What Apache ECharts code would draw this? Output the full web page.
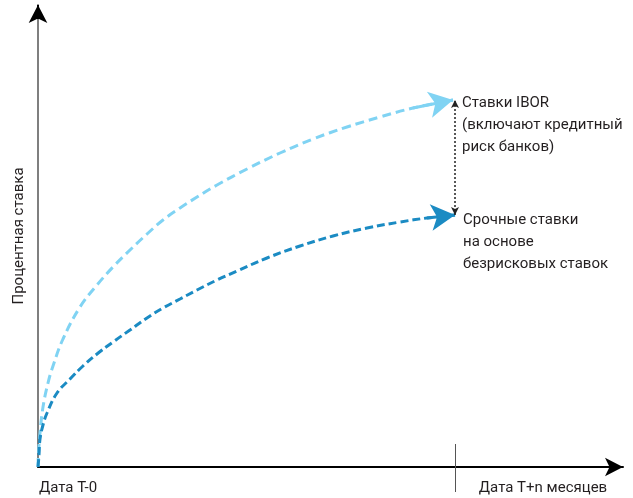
<!DOCTYPE html>
<html>
<head>
<meta charset="utf-8">
<script src="https://cdn.jsdelivr.net/npm/echarts@6/dist/echarts.min.js"></script>
<style>
html,body{margin:0;padding:0;background:#fff;}
#chart{width:633px;height:498px;}
</style>
</head>
<body>
<div id="chart"></div>
<script>
// Time axis (arbitrary units, T-0 .. T+n) and rate (arbitrary units)
var iborX = [0, 0.5, 2, 5, 10, 15, 25, 42, 59, 75, 92, 109, 125, 142, 159, 179, 209, 242, 275, 309, 342, 375, 415];
var iborY = [0, 14, 34, 60, 84, 101, 128, 160, 182, 200, 217, 233, 247, 259, 270, 282, 298, 314, 328, 340, 350, 359, 367];
var rfrX = [0, 1, 2, 5, 9, 19, 32, 45, 59, 75, 92, 109, 125, 142, 159, 179, 199, 229, 262, 295, 329, 362, 389, 417];
var rfrY = [0, 12, 28, 42, 54, 74, 88, 101, 113, 125, 137, 149, 159, 168, 177, 187, 196, 209, 221, 231, 239, 245, 249, 252];
var xMax = 585, yMax = 462;
var tickValues = [30, 505];
var tickLabels = ['Дата T-0', 'Дата T+n месяцев'];
var horizonValue = 417;
var iborLabel = 'Ставки IBOR\n(включают кредитный\nриск банков)';
var rfrLabel = 'Срочные ставки\nна основе\nбезрисковых ставок';
var yName = 'Процентная ставка';

function pairs(xs, ys) { return xs.map(function (x, i) { return [x, ys[i]]; }); }
var ibor = pairs(iborX, iborY);
var rfr = pairs(rfrX, rfrY);
function endArrow(d) {
  var a = d[d.length - 2], b = d[d.length - 1];
  return [[{ coord: a }, { coord: b }]];
}
var FONT = 'Roboto';
var TXT = '#231f20';

var chart = echarts.init(document.getElementById('chart'), null, { renderer: 'canvas' });
chart.setOption({
  animation: false,
  grid: { left: 38, right: 10, top: 5, bottom: 31, containLabel: false },
  xAxis: [{
    type: 'value', min: 0, max: xMax, position: 'bottom',
    splitLine: { show: false },
    axisLine: { show: true, onZero: false, symbol: ['none', 'arrow'], symbolSize: [14, 18],
      lineStyle: { color: '#000', width: 2 } },
    axisTick: { show: true, customValues: [horizonValue], length: 25, inside: false,
      lineStyle: { color: '#555', width: 1 } },
    axisLabel: { show: true, customValues: tickValues, margin: 14,
      fontFamily: FONT, fontSize: 15, color: TXT,
      formatter: function (v) { var i = tickValues.indexOf(v); return i >= 0 ? tickLabels[i] : ''; } }
  }, {
    type: 'value', min: 0, max: xMax, position: 'bottom',
    splitLine: { show: false },
    axisLine: { show: false, onZero: false },
    axisTick: { show: true, customValues: [horizonValue], length: 23, inside: true,
      lineStyle: { color: '#555', width: 1 } },
    axisLabel: { show: false }
  }],
  yAxis: {
    type: 'value', min: 0, max: yMax,
    splitLine: { show: false },
    axisTick: { show: false },
    axisLabel: { show: false },
    axisLine: { show: true, onZero: false, symbol: 'none',
      lineStyle: { color: '#7f7f7f', width: 2 } },
    name: yName, nameLocation: 'middle', nameGap: 11, nameRotate: 90,
    nameTextStyle: { fontFamily: FONT, fontSize: 15, color: TXT }
  },
  series: [{
    type: 'line', name: 'IBOR', data: ibor, smooth: 0.4, showSymbol: false, silent: true,
    lineStyle: { color: '#80d3f3', width: 3, type: [9, 5] },
    markLine: {
      silent: true, animation: false, symbol: ['none', 'arrow'], symbolSize: [20, 24],
      label: { show: false }, emphasis: { disabled: true },
      lineStyle: { color: '#80d3f3', width: 3, type: 'solid' },
      data: endArrow(ibor)
    },
    markPoint: {
      silent: true, symbol: 'circle', symbolSize: 0,
      label: { show: true, position: 'right', distance: 9, align: 'left', verticalAlign: 'top',
        offset: [0, -8], lineHeight: 22, fontFamily: FONT, fontSize: 15, color: TXT,
        formatter: function () { return iborLabel; } },
      data: [{ coord: ibor[ibor.length - 1] }]
    }
  }, {
    type: 'line', name: 'RFR', data: rfr, smooth: 0.4, showSymbol: false, silent: true,
    lineStyle: { color: '#1b8bc3', width: 3, type: [8, 4] },
    markLine: {
      silent: true, animation: false, symbol: ['none', 'arrow'], symbolSize: [20, 24],
      label: { show: false }, emphasis: { disabled: true },
      lineStyle: { color: '#1b8bc3', width: 3, type: 'solid' },
      data: endArrow(rfr)
    },
    markPoint: {
      silent: true, symbol: 'circle', symbolSize: 0,
      label: { show: true, position: 'right', distance: 8, align: 'left', verticalAlign: 'top',
        offset: [0, -6], lineHeight: 22, fontFamily: FONT, fontSize: 15, color: TXT,
        formatter: function () { return rfrLabel; } },
      data: [{ coord: rfr[rfr.length - 1] }]
    }
  }, {
    type: 'line', name: 'spread', data: [], silent: true,
    markLine: {
      silent: true, animation: false, symbol: ['arrow', 'arrow'], symbolSize: [6, 8],
      label: { show: false }, emphasis: { disabled: true },
      lineStyle: { color: '#222', width: 1.5, type: [2, 2] },
      data: [[{ coord: [horizonValue, rfrY[rfrY.length - 1]] }, { coord: [horizonValue, iborY[iborY.length - 1]] }]]
    }
  }, {
    type: 'line', name: 'yAxisArrow', data: [], silent: true,
    markLine: {
      silent: true, animation: false, symbol: ['none', 'arrow'], symbolSize: [14, 18],
      label: { show: false }, emphasis: { disabled: true },
      lineStyle: { color: '#000', width: 2, type: 'solid' },
      data: [[{ coord: [0, yMax - 14] }, { coord: [0, yMax] }]]
    }
  }]
});
</script>
</body>
</html>
